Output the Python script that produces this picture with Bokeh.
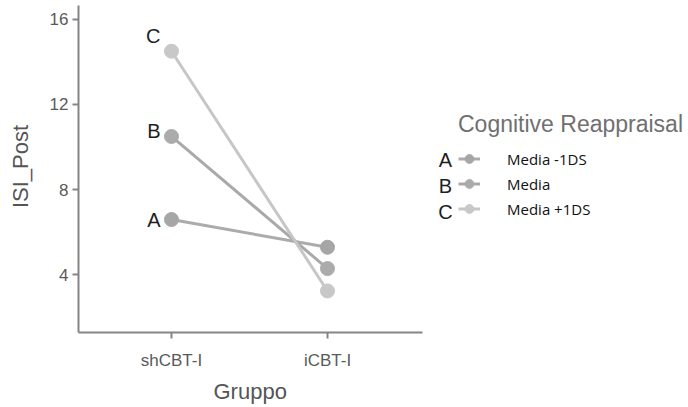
from bokeh.plotting import figure
from bokeh.models import Range1d, FixedTicker, Legend, LegendItem, Label, ColumnDataSource, Title
from bokeh.core.properties import value
from bokeh.embed import file_html
from bokeh.resources import INLINE

groups = ["shCBT-I", "iCBT-I"]
series_letters = ["A", "B", "C"]
series_names = ["Media -1DS", "Media", "Media +1DS"]
isi_A = [6.6, 5.3]
isi_B = [10.5, 4.3]
isi_C = [14.5, 3.25]
y_ticks = [4, 8, 12, 16]

series_values = [isi_A, isi_B, isi_C]
line_colors = ["#ababab", "#a9a9a9", "#c6c6c6"]
dot_colors = ["#a6a6a6", "#ababab", "#c8c8c8"]
letter_dy = [0, -5, -15]

FONT = "Liberation Sans"

p = figure(width=688, height=407, output_backend="svg", toolbar_location=None,
           x_range=Range1d(-0.596, 3.314), y_range=Range1d(1.30, 16.88),
           min_border_left=78, min_border_right=0, min_border_top=0, min_border_bottom=72)
p.outline_line_color = None
p.grid.visible = False
p.background_fill_color = "white"
p.border_fill_color = "white"

xs = list(range(len(groups)))
items = []
for letter, name, vals, lc, dc, dy in zip(series_letters, series_names, series_values,
                                          line_colors, dot_colors, letter_dy):
    src = ColumnDataSource(dict(x=xs, y=vals))
    r1 = p.line("x", "y", source=src, line_color=lc, line_width=3)
    r2 = p.scatter("x", "y", source=src, size=14, fill_color=dc, line_color=dc)
    items.append(LegendItem(label=name, renderers=[r1, r2]))
    lsrc = ColumnDataSource(dict(x=[xs[0]], y=[vals[0]], t=[letter]))
    p.text("x", "y", text="t", source=lsrc, x_offset=-11, y_offset=dy,
           text_align="right", text_baseline="middle", text_font=value(FONT),
           text_font_size="20px", text_color="#1e1e1e")

for ax in (p.xaxis[0], p.yaxis[0]):
    ax.axis_line_color = "#858585"
    ax.axis_line_width = 2
    ax.major_tick_line_color = "#858585"
    ax.major_tick_line_width = 2
    ax.major_tick_out = 6
    ax.major_tick_in = 0
    ax.minor_tick_line_color = None
    ax.major_label_text_font = FONT
    ax.major_label_text_font_size = "17px"
    ax.major_label_text_color = "#5a5a5a"
    ax.axis_label_text_font = FONT
    ax.axis_label_text_font_size = "22px"
    ax.axis_label_text_font_style = "normal"
    ax.axis_label_text_color = "#555555"

p.yaxis.ticker = FixedTicker(ticks=y_ticks)
p.yaxis.bounds = (1.30, 16.65)
p.yaxis.axis_label = "ISI_Post"
p.yaxis.major_label_standoff = 4
p.yaxis.axis_label_standoff = 14

p.xaxis.ticker = FixedTicker(ticks=xs)
p.xaxis.bounds = (-0.596, 1.609)
p.xaxis.major_label_overrides = {i: g for i, g in enumerate(groups)}
p.xaxis.major_label_standoff = 12

p.add_layout(Title(text="Gruppo", align="left", offset=135, standoff=8,
                   text_font=FONT, text_font_size="22px", text_font_style="normal",
                   text_color="#555555"), "below")

legend = Legend(items=items, location=(380, 111), title="Cognitive Reappraisal",
                title_text_font=FONT, title_text_font_size="23px",
                title_text_color="#707070", title_text_font_style="normal",
                title_standoff=8,
                label_text_font="Open Sans", label_text_font_size="15px",
                label_text_color="#111111",
                glyph_width=22, glyph_height=25, label_height=25,
                label_standoff=27, spacing=0, padding=0, margin=0,
                border_line_color=None, background_fill_alpha=0)
p.add_layout(legend)

for i, letter in enumerate(series_letters):
    p.add_layout(Label(x=367, y=173 - i * 26, x_units="screen", y_units="screen",
                       text=letter, text_align="center", text_baseline="middle",
                       text_font=FONT, text_font_size="20px", text_color="#1e1e1e"))

open("out.html", "w").write(file_html(p, INLINE))
